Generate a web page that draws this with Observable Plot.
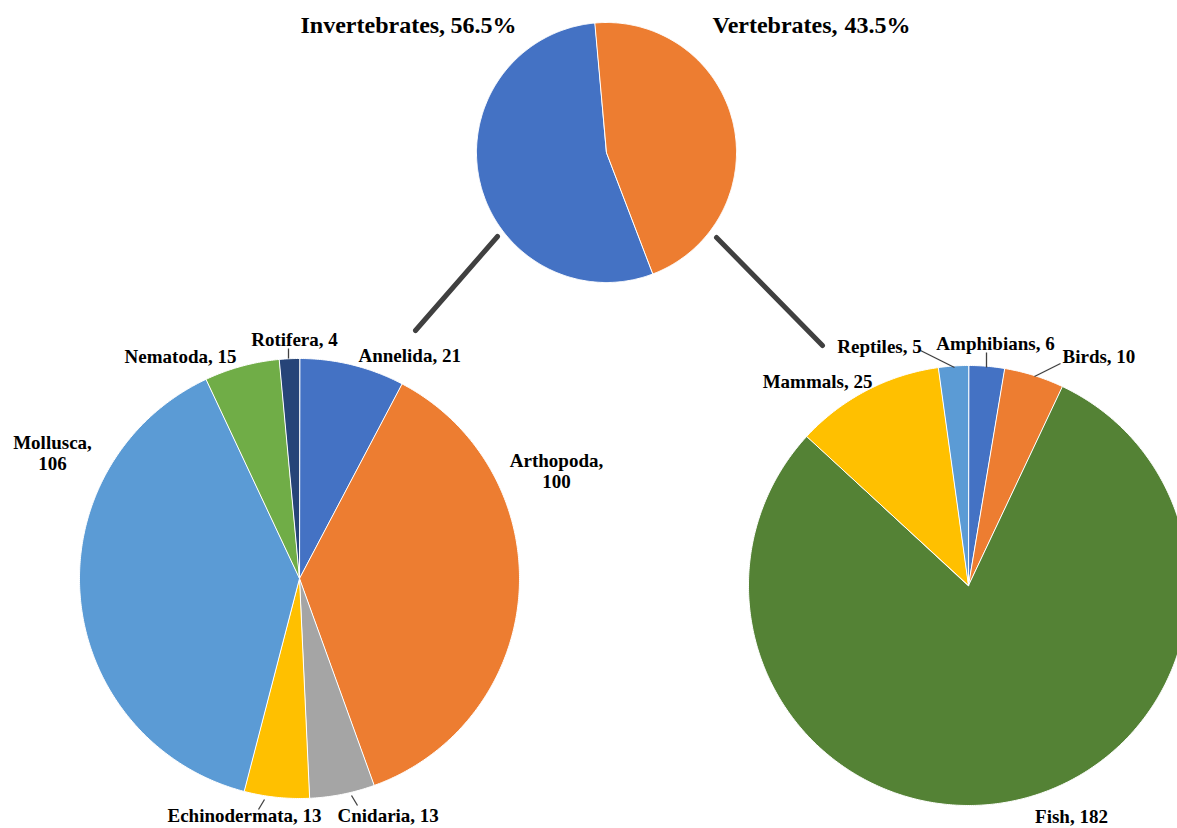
<!DOCTYPE html>
<html>
<head>
<meta charset="utf-8">
<script src="https://cdn.jsdelivr.net/npm/d3@7"></script>
<script src="https://cdn.jsdelivr.net/npm/@observablehq/plot@0.6"></script>
<style>
  html, body { margin: 0; padding: 0; background: #fff; }
</style>
</head>
<body>
<div id="chart"></div>
<script>
// ---- data ----
const invertNames = ["Annelida", "Arthopoda", "Cnidaria", "Echinodermata", "Mollusca", "Nematoda", "Rotifera"];
const invertValues = [21, 100, 13, 13, 106, 15, 4];
const invertColors = ["#4472C4", "#ED7D31", "#A5A5A5", "#FFC000", "#5B9BD5", "#70AD47", "#264478"];

const vertNames = ["Amphibians", "Birds", "Fish", "Mammals", "Reptiles"];
const vertValues = [6, 10, 182, 25, 5];
const vertColors = ["#4472C4", "#ED7D31", "#548235", "#FFC000", "#5B9BD5"];

const groupNames = ["Invertebrates", "Vertebrates"];
const groupShares = ["56.5%", "43.5%"];
const groupColors = ["#4472C4", "#ED7D31"];
const groupValues = [d3.sum(invertValues), d3.sum(vertValues)];

// ---- layout ----
const W = 1177, H = 828;
const deg = Math.PI / 180;
const topPie = {cx: 606, cy: 152, r: 130, start: 159 * deg};
const leftPie = {cx: 299, cy: 578, r: 220, start: 0};
const rightPie = {cx: 968, cy: 585, r: 220, start: 0};

function slicePolys(key, values, colors, p) {
  const arcs = d3.pie().sort(null).startAngle(p.start).endAngle(p.start + 2 * Math.PI)(values);
  const rows = [];
  arcs.forEach((a, i) => {
    const k = key + i;
    const n = Math.max(2, Math.ceil((a.endAngle - a.startAngle) / (0.5 * deg)));
    rows.push({k, x: p.cx, y: p.cy, fill: colors[i]});
    for (let j = 0; j <= n; j++) {
      const t = a.startAngle + (a.endAngle - a.startAngle) * j / n;
      rows.push({k, x: p.cx + p.r * Math.sin(t), y: p.cy - p.r * Math.cos(t), fill: colors[i]});
    }
  });
  return rows;
}

const polys = [
  ...slicePolys("t", groupValues, groupColors, topPie),
  ...slicePolys("l", invertValues, invertColors, leftPie),
  ...slicePolys("r", vertValues, vertColors, rightPie)
];

// label placement (x, baseline y, anchor)
const invertLabelPos = [
  {x: 358, y: 361, a: "start", wrap: false},
  {x: 556, y: 466, a: "middle", wrap: true},
  {x: 337, y: 821, a: "start", wrap: false},
  {x: 244, y: 821, a: "middle", wrap: false},
  {x: 52, y: 448, a: "middle", wrap: true},
  {x: 236, y: 362, a: "end", wrap: false},
  {x: 294, y: 345, a: "middle", wrap: false}
];
const vertLabelPos = [
  {x: 995, y: 349, a: "middle", wrap: false},
  {x: 1062, y: 362, a: "start", wrap: false},
  {x: 1071, y: 822, a: "middle", wrap: false},
  {x: 817, y: 387, a: "middle", wrap: false},
  {x: 879, y: 352, a: "middle", wrap: false}
];
const FS = 19;
const labels = [];
invertNames.forEach((n, i) => {
  const p = invertLabelPos[i];
  labels.push({text: p.wrap ? `${n},\n${invertValues[i]}` : `${n}, ${invertValues[i]}`,
    x: p.x, y: p.y - 0.32 * FS + (p.wrap ? 0.55 * FS : 0), a: p.a});
});
vertNames.forEach((n, i) => {
  const p = vertLabelPos[i];
  labels.push({text: `${n}, ${vertValues[i]}`, x: p.x, y: p.y - 0.32 * FS, a: p.a});
});

const leaders = [
  {x1: 288, y1: 348, x2: 288, y2: 358},
  {x1: 264, y1: 799, x2: 258, y2: 809},
  {x1: 351, y1: 795, x2: 357, y2: 805},
  {x1: 920, y1: 350, x2: 954, y2: 367},
  {x1: 986, y1: 352, x2: 986, y2: 367},
  {x1: 1060, y1: 363, x2: 1034, y2: 376}
];
const connectors = [
  {x1: 497, y1: 236, x2: 415, y2: 330},
  {x1: 716, y1: 237, x2: 822, y2: 345}
];

// title pieces: name (x start), share (x start)
const titleNamePos = [{x: 300, y: 32}, {x: 712, y: 32}];
const titleSharePos = [{x: 450, y: 32}, {x: 844, y: 32}];
const TF = 24, SF = 24;
const titleNames = groupNames.map((n, i) => ({text: n + ",", x: titleNamePos[i].x, y: titleNamePos[i].y - 0.32 * TF}));
const titleShares = groupShares.map((s, i) => ({text: s, x: titleSharePos[i].x, y: titleSharePos[i].y - 0.32 * SF}));

const chart = Plot.plot({
  width: W,
  height: H,
  margin: 0,
  x: {domain: [0, W], range: [0, W], axis: null},
  y: {domain: [0, H], range: [0, H], axis: null},
  color: {type: "identity"},
  style: {fontFamily: "'Liberation Serif', 'Times New Roman', serif", background: "#fff", overflow: "hidden"},
  marks: [
    Plot.link(connectors, {x1: "x1", y1: "y1", x2: "x2", y2: "y2", stroke: "#404040", strokeWidth: 5, strokeLinecap: "round"}),
    Plot.line(polys, {x: "x", y: "y", z: "k", fill: "fill", stroke: "#ffffff", strokeWidth: 1, curve: "linear-closed"}),
    Plot.link(leaders, {x1: "x1", y1: "y1", x2: "x2", y2: "y2", stroke: "#404040", strokeWidth: 1.3}),
    Plot.text(labels.filter(d => d.a === "start"), {x: "x", y: "y", text: "text", textAnchor: "start", fontSize: FS, fontWeight: "bold", fill: "#000", lineHeight: 1.1}),
    Plot.text(labels.filter(d => d.a === "middle"), {x: "x", y: "y", text: "text", textAnchor: "middle", fontSize: FS, fontWeight: "bold", fill: "#000", lineHeight: 1.1}),
    Plot.text(labels.filter(d => d.a === "end"), {x: "x", y: "y", text: "text", textAnchor: "end", fontSize: FS, fontWeight: "bold", fill: "#000", lineHeight: 1.1}),
    Plot.text(titleNames, {x: "x", y: "y", text: "text", textAnchor: "start", fontSize: TF, fontWeight: "bold", fill: "#000"}),
    Plot.text(titleShares, {x: "x", y: "y", text: "text", textAnchor: "start", fontSize: SF, fontWeight: "bold", fill: "#000"})
  ]
});
document.getElementById("chart").appendChild(chart);
</script>
</body>
</html>
